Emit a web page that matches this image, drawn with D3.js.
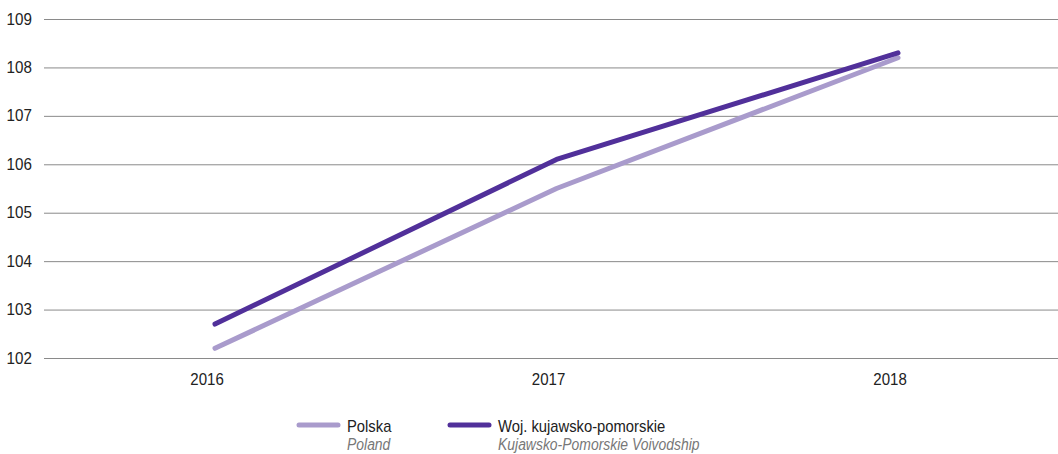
<!DOCTYPE html>
<html><head><meta charset="utf-8">
<script src="https://cdn.jsdelivr.net/npm/d3@7"></script>
<style>body{margin:0;background:#fff}svg{display:block}text{font-family:"Liberation Sans Narrow","Arial Narrow","Liberation Sans",sans-serif}</style>
</head><body><svg id="c" width="1058" height="454"></svg>
<script>
const years = ["2016","2017","2018"];
const polska = [102.2, 105.5, 108.2];
const kujawsko = [102.7, 106.1, 108.3];
const yTicks = [102,103,104,105,106,107,108,109];
const seriesNames = [["Polska","Poland"],["Woj. kujawsko-pomorskie","Kujawsko-Pomorskie Voivodship"]];
const colors = ["#a99bcc","#51309a"];

const svg = d3.select("#c");
const x = d3.scalePoint().domain(years).range([215, 898]);
const y = d3.scaleLinear().domain([102,109]).range([358, 19]);

const gy = svg.append("g").attr("transform","translate(44,0)")
  .call(d3.axisLeft(y).tickValues(yTicks).tickSize(-1014).tickPadding(11).tickFormat(d3.format("d")));
gy.select(".domain").remove();
gy.selectAll(".tick line").attr("stroke","#8a8a8a").attr("stroke-width",1);
gy.selectAll(".tick text").attr("font-size",16).attr("fill","#222")
  .attr("transform","translate(-33,0) scale(0.95,1) translate(33,0)");

const gx = svg.append("g").attr("transform","translate(0,358)")
  .call(d3.axisBottom(x).tickSize(0).tickPadding(16));
gx.select(".domain").remove();
gx.selectAll(".tick text").attr("font-size",16).attr("fill","#222").attr("dx",-9)
  .attr("transform","scale(0.94,1)");

const line = d3.line().x((d,i)=>x(years[i])).y(d=>y(d));
[polska, kujawsko].forEach((s,i)=>{
  svg.append("path").attr("d",line(s)).attr("fill","none")
    .attr("stroke",colors[i]).attr("stroke-width",5).attr("stroke-linecap","round").attr("stroke-linejoin","round");
});

const legX = [297, 448];
seriesNames.forEach((n,i)=>{
  const g = svg.append("g").attr("transform",`translate(${legX[i]},0)`);
  g.append("line").attr("x1",2).attr("x2",41).attr("y1",425).attr("y2",425)
    .attr("stroke",colors[i]).attr("stroke-width",5).attr("stroke-linecap","round");
  g.append("g").attr("transform","translate(50,0) scale(0.87,1)")
    .append("text").attr("x",0).attr("y",432).attr("font-size",17).attr("fill","#222").text(n[0]);
  g.append("g").attr("transform","translate(50,0) scale(0.82,1)")
    .append("text").attr("x",0).attr("y",450).attr("font-size",17).attr("font-style","italic").attr("fill","#777").text(n[1]);
});
</script></body></html>
